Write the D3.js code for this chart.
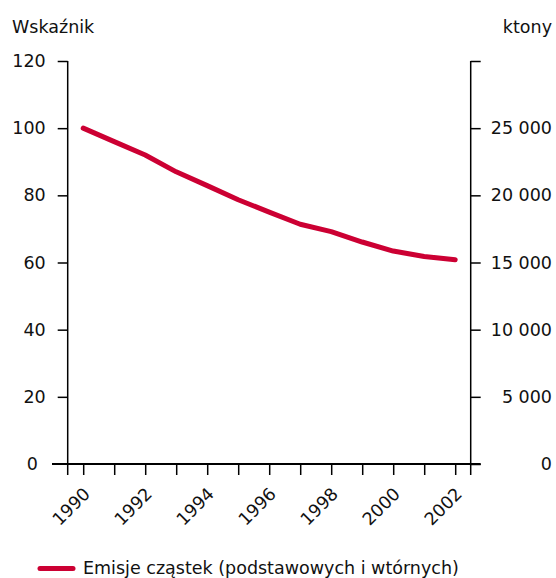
<!DOCTYPE html>
<html>
<head>
<meta charset="utf-8">
<script src="https://cdn.jsdelivr.net/npm/d3@7"></script>
<style>
  body { margin: 0; background: #fff; }
  text { font-family: "DejaVu Sans", Verdana, sans-serif; fill: #111; }
</style>
</head>
<body>
<svg id="chart"></svg>
<script>
// data
const years = [1990, 1991, 1992, 1993, 1994, 1995, 1996, 1997, 1998, 1999, 2000, 2001, 2002];
const index_values = [100, 96, 92.0, 87.0, 82.9, 78.7, 75.0, 71.4, 69.2, 66.1, 63.4, 61.8, 60.8];
const year_labels = [1990, 1992, 1994, 1996, 1998, 2000, 2002];
const left_ticks = [0, 20, 40, 60, 80, 100, 120];
const right_ticks = [0, 5000, 10000, 15000, 20000, 25000, 30000];
const series_name = 'Emisje cząstek (podstawowych i wtórnych)';
const left_title = 'Wskaźnik';
const right_title = 'ktony';

const width = 556, height = 578;
const fontsize = '17.5px';
const line_color = '#cc0033';

const svg = d3.select('#chart')
    .attr('width', width)
    .attr('height', height);

const plot_left = 67.7, plot_right = 470.7, plot_top = 61, plot_bottom = 464;

// scales
const xscale = d3.scaleLinear()
    .domain([1989.5, 2002.5])
    .range([plot_left, plot_right]);

const yscale = d3.scaleLinear()
    .domain([0, 120])
    .range([plot_bottom, plot_top]);

const y2scale = d3.scaleLinear()
    .domain([0, 30000])
    .range([plot_bottom, plot_top]);

const locale = d3.formatLocale({ decimal: ',', thousands: '\u00a0', grouping: [3], currency: ['', ''] });
const fmt = locale.format(',d');

// left axis
const yaxis = d3.axisLeft(yscale)
    .tickValues(left_ticks.filter(d => d > 0))
    .tickSize(10)
    .tickPadding(12)
    .tickSizeOuter(0);

const yaxis_group = svg.append('g')
    .attr('transform', `translate(${plot_left}, 0)`)
    .call(yaxis);

// zero label on the left sits further out
svg.append('text')
    .attr('x', 38)
    .attr('y', yscale(0))
    .attr('dy', '0.35em')
    .attr('text-anchor', 'end')
    .style('font-size', fontsize)
    .text(left_ticks[0]);

// right axis
const y2axis = d3.axisRight(y2scale)
    .tickValues(right_ticks)
    .tickSize(10)
    .tickPadding(0)
    .tickSizeOuter(0)
    .tickFormat(d => d === 30000 ? '' : fmt(d));

const y2axis_group = svg.append('g')
    .attr('transform', `translate(${plot_right}, 0)`)
    .call(y2axis);

y2axis_group.selectAll('.tick text')
    .attr('x', 552 - plot_right)
    .attr('text-anchor', 'end');

// x axis ticks (below baseline)
const xaxis = d3.axisBottom(xscale)
    .tickValues(years)
    .tickSize(11)
    .tickFormat('')
    .tickSizeOuter(0);

const xaxis_group = svg.append('g')
    .attr('transform', `translate(0, ${plot_bottom})`)
    .call(xaxis);

xaxis_group.select('.domain').remove();

// extend axis lines down and the baseline out
svg.append('line')
    .attr('x1', plot_left).attr('x2', plot_left)
    .attr('y1', plot_top).attr('y2', plot_bottom + 11)
    .attr('stroke', '#000').attr('stroke-width', 1.5);
svg.append('line')
    .attr('x1', plot_right).attr('x2', plot_right)
    .attr('y1', plot_top).attr('y2', plot_bottom + 11)
    .attr('stroke', '#000').attr('stroke-width', 1.5);
svg.append('line')
    .attr('x1', 52).attr('x2', plot_right + 10)
    .attr('y1', plot_bottom).attr('y2', plot_bottom)
    .attr('stroke', '#000').attr('stroke-width', 2);

[yaxis_group, y2axis_group].forEach(g => {
    g.select('.domain').remove();
    g.selectAll('.tick line').attr('stroke', '#000').attr('stroke-width', 1.5);
    g.selectAll('.tick text').style('font-size', fontsize).style('font-family', '"DejaVu Sans", Verdana, sans-serif').attr('fill', '#111');
});
xaxis_group.selectAll('.tick line').attr('stroke', '#000').attr('stroke-width', 1.5);

// year labels
svg.append('g').selectAll('text')
    .data(year_labels)
    .join('text')
    .attr('transform', d => `translate(${xscale(d) + 8}, 495) rotate(-45)`)
    .attr('text-anchor', 'end')
    .style('font-size', fontsize)
    .text(d => d);

// titles
svg.append('text')
    .attr('x', 12).attr('y', 33)
    .style('font-size', fontsize)
    .text(left_title);

svg.append('text')
    .attr('x', 552).attr('y', 33)
    .attr('text-anchor', 'end')
    .style('font-size', fontsize)
    .text(right_title);

// line
const line = d3.line()
    .x((d, i) => xscale(years[i]))
    .y(d => yscale(d));

svg.append('path')
    .datum(index_values)
    .attr('fill', 'none')
    .attr('stroke', line_color)
    .attr('stroke-width', 5)
    .attr('stroke-linecap', 'round')
    .attr('stroke-linejoin', 'round')
    .attr('d', line);

// legend
svg.append('line')
    .attr('x1', 40).attr('x2', 73)
    .attr('y1', 568.5).attr('y2', 568.5)
    .attr('stroke', line_color)
    .attr('stroke-width', 5)
    .attr('stroke-linecap', 'round');

svg.append('text')
    .attr('x', 83).attr('y', 574)
    .style('font-size', fontsize)
    .text(series_name);
</script>
</body>
</html>
